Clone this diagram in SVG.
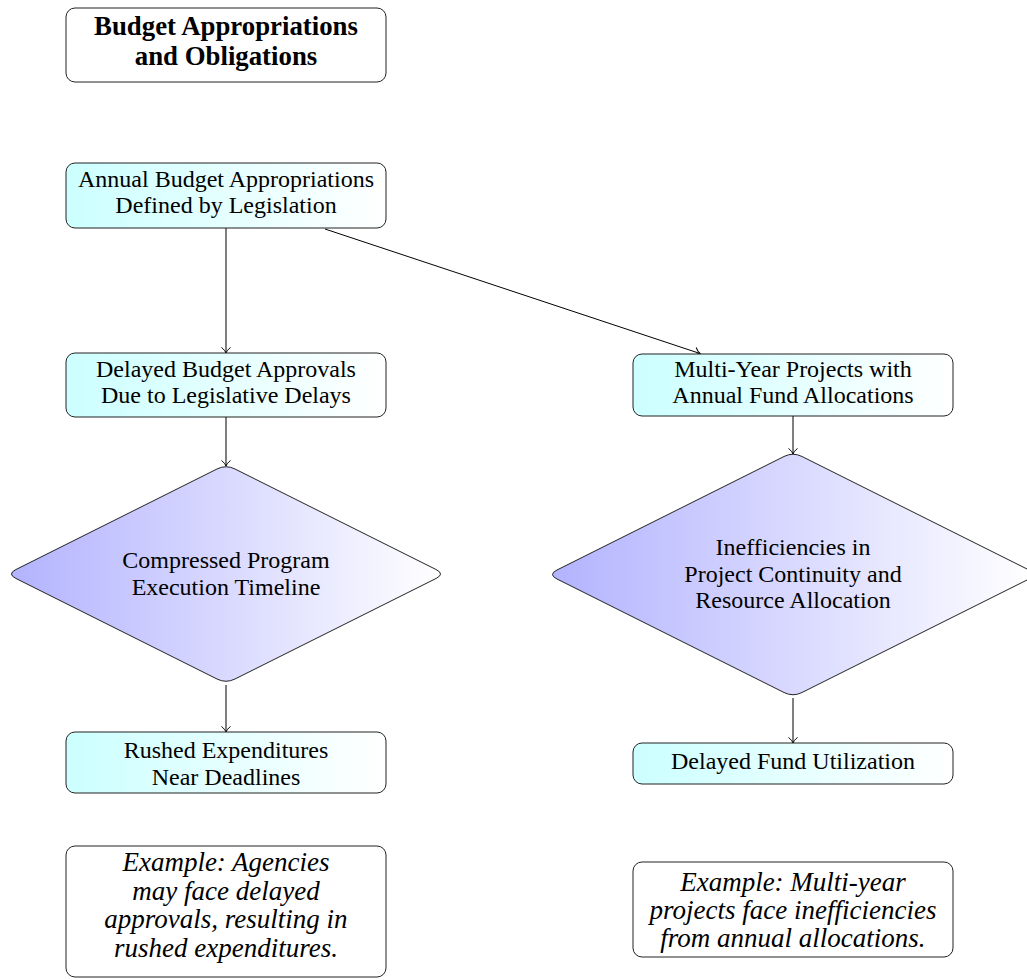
<svg xmlns="http://www.w3.org/2000/svg" width="1027" height="980" viewBox="0 0 1027 980">
<defs>
<linearGradient id="gBox" x1="0" y1="0" x2="1" y2="0"><stop offset="0" stop-color="#ccffff"/><stop offset="1" stop-color="#ffffff"/></linearGradient>
<linearGradient id="gDia" x1="0" y1="0" x2="1" y2="0"><stop offset="0" stop-color="#b3b3ff"/><stop offset="1" stop-color="#ffffff"/></linearGradient>
<marker id="arr" markerUnits="userSpaceOnUse" markerWidth="12" markerHeight="12" viewBox="-6 -6 12 12" refX="0" refY="0" orient="auto" overflow="visible">
<path d="M-5.5,-4.5 C-3.5,-1.8 -1.2,-0.5 0,0 C-1.2,0.5 -3.5,1.8 -5.5,4.5" fill="none" stroke="#000" stroke-width="1"/>
</marker>
<style>
.box{stroke:#222;stroke-width:1}
.t{font-family:"Liberation Serif","Times New Roman",serif;font-size:24px;fill:#000;text-anchor:middle}
.b{font-weight:bold;font-size:26.8px}
.i{font-style:italic;font-size:27px}
.c{fill:none;stroke:#000;stroke-width:1;marker-end:url(#arr)}
</style>
</defs>
<g id="connectors">
<line class="c" x1="226" y1="228" x2="226" y2="353"/>
<line class="c" x1="325" y1="229" x2="700" y2="353.5"/>
<line class="c" x1="226" y1="417" x2="226" y2="466"/>
<line class="c" x1="226" y1="685" x2="226" y2="732"/>
<line class="c" x1="793" y1="416" x2="793" y2="454"/>
<line class="c" x1="793" y1="698" x2="793" y2="743"/>
</g>
<g id="title">
<rect class="box" x="66" y="8" width="320" height="74" rx="9" fill="#fff"/>
<text class="t b" x="226" y="35">Budget Appropriations</text>
<text class="t b" x="226" y="65">and Obligations</text>
</g>
<g id="annual">
<rect class="box" x="66" y="163" width="320" height="65" rx="9" fill="url(#gBox)"/>
<text class="t" x="226" y="187">Annual Budget Appropriations</text>
<text class="t" x="226" y="213">Defined by Legislation</text>
</g>
<g id="delayed">
<rect class="box" x="66" y="353" width="320" height="64" rx="9" fill="url(#gBox)"/>
<text class="t" x="226" y="377">Delayed Budget Approvals</text>
<text class="t" x="226" y="403">Due to Legislative Delays</text>
</g>
<g id="multiyear">
<rect class="box" x="633" y="354" width="320" height="62" rx="9" fill="url(#gBox)"/>
<text class="t" x="793" y="377">Multi-Year Projects with</text>
<text class="t" x="793" y="403">Annual Fund Allocations</text>
</g>
<g id="compressed">
<path class="box" fill="url(#gDia)" d="M217.06,468.97 Q226,464.5 234.94,468.97 L436.06,569.53 Q445,574 436.06,578.47 L234.94,679.03 Q226,683.5 217.06,679.03 L15.94,578.47 Q7,574 15.94,569.53 Z"/>
<text class="t" x="226" y="568">Compressed Program</text>
<text class="t" x="226" y="595">Execution Timeline</text>
</g>
<g id="inefficiencies">
<path class="box" fill="url(#gDia)" d="M784.06,456.48 Q793,452 801.94,456.48 L1029.06,570.02 Q1038,574.5 1029.06,578.98 L801.94,692.52 Q793,697 784.06,692.52 L556.94,578.98 Q548,574.5 556.94,570.02 Z"/>
<text class="t" x="793" y="555">Inefficiencies in</text>
<text class="t" x="793" y="581.5">Project Continuity and</text>
<text class="t" x="793" y="608">Resource Allocation</text>
</g>
<g id="rushed">
<rect class="box" x="66" y="732" width="320" height="61" rx="9" fill="url(#gBox)"/>
<text class="t" x="226" y="758">Rushed Expenditures</text>
<text class="t" x="226" y="785">Near Deadlines</text>
</g>
<g id="fundutil">
<rect class="box" x="633" y="743" width="320" height="41" rx="9" fill="url(#gBox)"/>
<text class="t" x="793" y="769">Delayed Fund Utilization</text>
</g>
<g id="example1">
<rect class="box" x="66" y="846" width="320" height="131" rx="9" fill="#fff"/>
<text class="t i" x="226" y="871">Example: Agencies</text>
<text class="t i" x="226" y="899.5">may face delayed</text>
<text class="t i" x="226" y="928">approvals, resulting in</text>
<text class="t i" x="226" y="956.5">rushed expenditures.</text>
</g>
<g id="example2">
<rect class="box" x="633" y="862" width="320" height="95" rx="9" fill="#fff"/>
<text class="t i" x="793" y="891">Example: Multi-year</text>
<text class="t i" x="793" y="919">projects face inefficiencies</text>
<text class="t i" x="793" y="947">from annual allocations.</text>
</g>
</svg>
